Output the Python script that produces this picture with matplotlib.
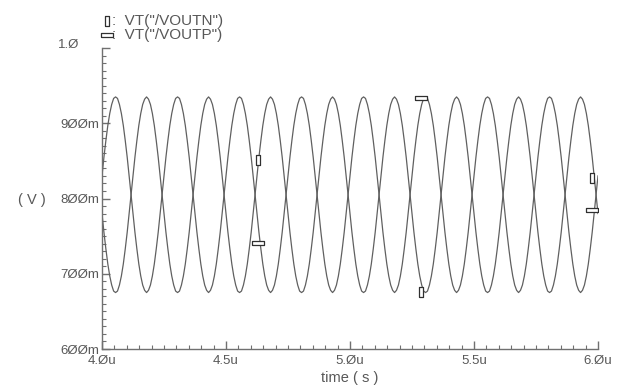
import numpy as np
import matplotlib
matplotlib.use("Agg")
import matplotlib.pyplot as plt
from matplotlib.lines import Line2D
from matplotlib.ticker import MultipleLocator
from matplotlib.transforms import ScaledTranslation

# one period (32 samples, 7.8125 ns apart) of each output
voutp_period = [0.830, 0.855, 0.877, 0.897, 0.913, 0.925, 0.933, 0.935,
                0.933, 0.925, 0.913, 0.897, 0.877, 0.855, 0.830, 0.805,
                0.780, 0.755, 0.733, 0.713, 0.697, 0.685, 0.678, 0.675,
                0.678, 0.685, 0.697, 0.713, 0.733, 0.755, 0.780, 0.805]
voutn_period = [0.780, 0.755, 0.733, 0.713, 0.697, 0.685, 0.677, 0.675,
                0.677, 0.685, 0.697, 0.713, 0.733, 0.755, 0.780, 0.805,
                0.830, 0.855, 0.877, 0.897, 0.913, 0.925, 0.932, 0.935,
                0.932, 0.925, 0.913, 0.897, 0.877, 0.855, 0.830, 0.805]
n_periods = 8
t_start = 4.0      # us
t_step = 0.0078125  # us

# marker positions (us, V)
voutn_marks_t = [4.630, 5.285, 5.976]
voutn_marks_v = [0.851, 0.676, 0.827]
voutp_marks_t = [4.630, 5.285, 5.976]
voutp_marks_v = [0.741, 0.933, 0.785]

x_ticks = [4.0, 4.5, 5.0, 5.5, 6.0]
x_labels = ["4.\u00d8u", "4.5u", "5.\u00d8u", "5.5u", "6.\u00d8u"]
y_ticks = [0.6, 0.7, 0.8, 0.9, 1.0]
y_labels = ["6\u00d8\u00d8m", "7\u00d8\u00d8m", "8\u00d8\u00d8m", "9\u00d8\u00d8m", "1.\u00d8"]

voutp = np.array(voutp_period * n_periods + voutp_period[:1])
voutn = np.array(voutn_period * n_periods + voutn_period[:1])
t = t_start + np.arange(len(voutp)) * t_step

plt.rcParams['font.family'] = ['Liberation Sans', 'DejaVu Sans']
txt = '#585858'
line_c = '#606060'

fig = plt.figure(figsize=(6.21, 3.85), dpi=100)
ax = fig.add_axes([102/621, 36/385, 496/621, 301/385])

ax.plot(t, voutn, color=line_c, lw=0.9)
ax.plot(t, voutp, color=line_c, lw=0.9)

# marker shapes: tall box for VOUTN, flat box for VOUTP
tall = [(-0.25, -0.5), (0.25, -0.5), (0.25, 0.5), (-0.25, 0.5), (-0.25, -0.5)]
flat = [(-0.5, -0.22), (0.5, -0.22), (0.5, 0.22), (-0.5, 0.22), (-0.5, -0.22)]
ax.plot(voutn_marks_t, voutn_marks_v, ls='none', marker=tall, ms=7,
        mfc='white', mec='#303030', mew=0.9)
ax.plot(voutp_marks_t, voutp_marks_v, ls='none', marker=flat, ms=8,
        mfc='white', mec='#303030', mew=0.9)

ax.set_xlim(4.0, 6.0)
ax.set_ylim(0.6, 1.0)
for s in ['top', 'right']:
    ax.spines[s].set_visible(False)
for s in ['left', 'bottom']:
    ax.spines[s].set_color('#707070')
    ax.spines[s].set_linewidth(1.0)

ax.set_xticks(x_ticks)
ax.set_xticklabels(x_labels)
ax.set_yticks(y_ticks)
ax.set_yticklabels(y_labels)
ax.xaxis.set_minor_locator(MultipleLocator(0.05))
ax.yaxis.set_minor_locator(MultipleLocator(0.01))
ax.tick_params(which='both', direction='in', colors='#707070',
               labelcolor=txt, labelsize=9.5)
ax.tick_params(which='major', length=6, width=1.0)
ax.tick_params(which='minor', length=3, width=0.8)
ax.tick_params(axis='x', which='major', pad=4)
ax.tick_params(axis='y', which='major', pad=2)

# the top label sits further left and a bit higher, as in the original
top_lab = ax.get_yticklabels()[-1]
top_lab.set_transform(top_lab.get_transform() +
                      ScaledTranslation(-0.20, 0.04, fig.dpi_scale_trans))

fig.text(32/621, 1 - 200/385, "( V )", ha='center', va='center',
         fontsize=10.5, color=txt)
fig.text(350/621, 1 - 378/385, "time ( s )", ha='center', va='center',
         fontsize=10.5, color=txt)

# legend
fig.add_artist(Line2D([107/621], [1 - 21/385], ls='none', marker=tall, ms=7,
                      mfc='white', mec='#303030', mew=0.9))
fig.add_artist(Line2D([107/621], [1 - 35/385], ls='none', marker=flat, ms=8,
                      mfc='white', mec='#303030', mew=0.9))
fig.text(112/621, 1 - 21/385, ':  VT("/VOUTN")', ha='left', va='center',
         fontsize=11, color=txt)
fig.text(112/621, 1 - 35/385, ':  VT("/VOUTP")', ha='left', va='center',
         fontsize=11, color=txt)

fig.savefig("out.png", dpi=100)
